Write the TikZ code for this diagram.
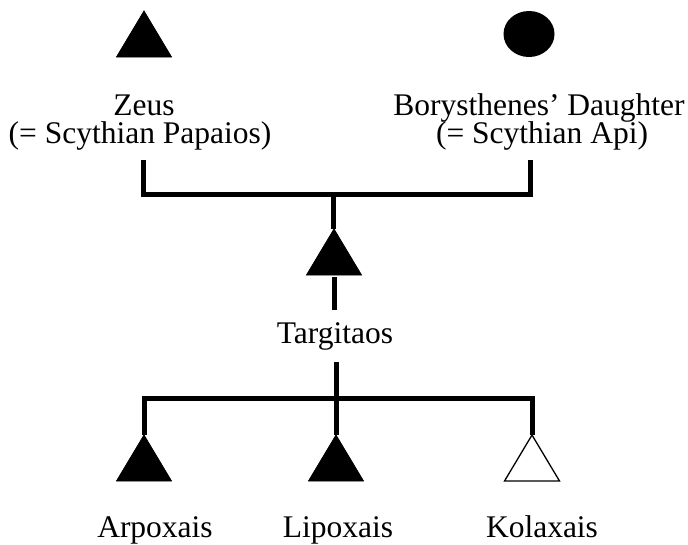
\documentclass[tikz,border=0pt]{standalone}
\usepackage{fontspec}
\setmainfont{Liberation Serif}
\usetikzlibrary{shapes.geometric}
\begin{document}
\begin{tikzpicture}[x=1pt,y=-1pt,
  lbl/.style={inner sep=0pt, outer sep=0pt, anchor=base, font=\fontsize{31.5}{30}\selectfont},
  trinode/.style={rectangle, minimum width=55pt, minimum height=46pt, inner sep=0pt, outer sep=0pt, anchor=north},
  kin/.style={line width=5pt, line join=miter, line cap=butt}]
\useasboundingbox[fill=white] (0,0) rectangle (688,544);

% symbols
\node[trinode] (zeus) at (144,11) {};
\node[ellipse, fill=black, minimum width=51pt, minimum height=46pt, inner sep=0pt] (bor) at (529,34) {};
\node[trinode] (targ) at (334,229) {};
\node[trinode] (arp) at (144,435) {};
\node[trinode] (lip) at (336,435) {};
\node[trinode] (kol) at (532,435) {};

\foreach \n in {zeus,targ,arp,lip}
  \filldraw[black, line width=0.8pt, line join=miter] (\n.south west) -- (\n.north) -- (\n.south east) -- cycle;
\draw[black, line width=1.3pt, line join=miter, fill=white] (kol.south west) -- (kol.north) -- (kol.south east) -- cycle;

% labels
\node[lbl] (zeusA) at (144,115) {Zeus};
\node[lbl] (zeusB) at (140,143) {(= Scythian Papaios)};
\node[lbl] (borA) at (539,115) {Borysthenes’ Daughter};
\node[lbl] (borB) at (542,143) {(= Scythian Api)};
\node[lbl] (targl) at (335,343) {Targitaos};
\node[lbl] (arpl) at (155,537) {Arpoxais};
\node[lbl] (lipl) at (338,537) {Lipoxais};
\node[lbl] (koll) at (542,537) {Kolaxais};

% connectors
\coordinate (zdrop) at (143,160);
\coordinate (bdrop) at (530,160);
\coordinate (j1) at (333,194);
\coordinate (tup) at (334,277);
\coordinate (tdown) at (334,310);
\coordinate (tl) at (336,362);
\coordinate (j2) at (336,398);

\draw[kin] (zdrop) |- (j1) -| (bdrop);
\draw[kin] (j1) -- (j1 |- targ.north);
\draw[kin] (tup) -- (tdown);
\draw[kin] (tl) -- (j2);
\draw[kin] (arp.north) |- (j2) -| (kol.north);
\draw[kin] (j2) -- (lip.north);
\end{tikzpicture}
\end{document}
